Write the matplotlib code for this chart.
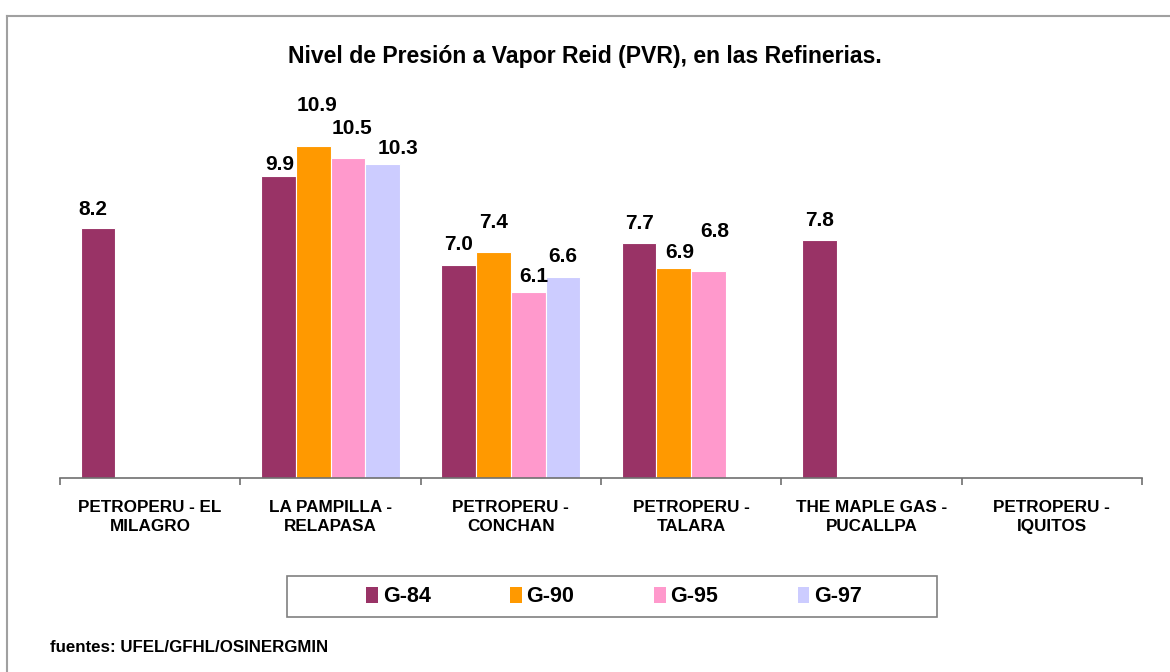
import matplotlib.pyplot as plt
import numpy as np
from matplotlib.patches import Rectangle, Patch
from matplotlib.lines import Line2D

plt.rcParams['font.family'] = ['Liberation Sans', 'DejaVu Sans']
plt.rcParams['font.weight'] = 'bold'

# data
categories = ["PETROPERU - EL\nMILAGRO", "LA PAMPILLA -\nRELAPASA", "PETROPERU -\nCONCHAN",
              "PETROPERU -\nTALARA", "THE MAPLE GAS -\nPUCALLPA", "PETROPERU -\nIQUITOS"]
series_names = ["G-84", "G-90", "G-95", "G-97"]
g84 = [8.2, 9.9, 7.0, 7.7, 7.8, np.nan]
g90 = [np.nan, 10.9, 7.4, 6.9, np.nan, np.nan]
g95 = [np.nan, 10.5, 6.1, 6.8, np.nan, np.nan]
g97 = [np.nan, 10.3, 6.6, np.nan, np.nan, np.nan]
series = [g84, g90, g95, g97]
colors = ["#993366", "#FF9900", "#FF99CC", "#CCCCFF"]

# label offsets in pixels (dx, dy) -- Excel placed them unevenly
label_off = [
    [(-5, 13), (1, 6), (0, 14), (0, 14), (0, 14), None],
    [None, (4, 35), (0, 24), (6, 10), None, None],
    [None, (4, 24), (6, 10), (6, 34), None, None],
    [None, (15, 10), (0, 15), None, None, None],
]

W, H = 1170, 672
fig = plt.figure(figsize=(W / 100, H / 100), dpi=100)
ax = fig.add_axes([60 / W, 1 - 478 / H, (1142 - 60) / W, (478 - 112) / H])

x = np.arange(len(categories))
slot = 0.1925
for i, vals in enumerate(series):
    pos = x + (i - 1.5) * slot
    ax.bar(pos, vals, width=slot, color=colors[i], edgecolor='white', linewidth=0.8)
    for j, v in enumerate(vals):
        if np.isnan(v):
            continue
        dx, dy = label_off[i][j]
        ax.annotate(f"{v:.1f}", (pos[j], v), xytext=(dx, dy), textcoords='offset pixels',
                    ha='center', va='baseline', fontsize=15, fontweight='bold')

ax.set_xlim(-0.5, len(categories) - 0.5)
ax.set_ylim(0, 12)
for s in ['top', 'right', 'left']:
    ax.spines[s].set_visible(False)
ax.spines['bottom'].set_color('#707070')
ax.spines['bottom'].set_linewidth(1.2)
ax.set_yticks([])
ax.set_xticks(x)
ax.set_xticklabels(categories, fontsize=12.3, fontweight='bold', linespacing=1.3)
ax.tick_params(axis='x', which='major', length=0, pad=16)
ax.set_xticks(np.arange(len(categories) + 1) - 0.5, minor=True)
ax.tick_params(axis='x', which='minor', length=5, color='#707070', width=1.2, direction='out')

fig.text(585 / W, 1 - 57 / H, "Nivel de Presión a Vapor Reid (PVR), en las Refinerias.",
         ha='center', va='center', fontsize=16.6, fontweight='bold')

# legend
handles = [Patch(facecolor=c, edgecolor='none') for c in colors]
fig.legend(handles, series_names, loc='center', bbox_to_anchor=(614 / W, 1 - 597 / H),
           ncol=4, frameon=False, handlelength=0.55, handleheight=0.7,
           handletextpad=0.2, columnspacing=3.7, prop={'weight': 'bold', 'size': 15.5})
fig.add_artist(Rectangle((287 / W, 1 - 617 / H), (937 - 287) / W, 41 / H,
                         transform=fig.transFigure, fill=False, edgecolor='#808080', linewidth=1.2))

fig.text(50 / W, 1 - 647 / H, "fuentes: UFEL/GFHL/OSINERGMIN", ha='left', va='center',
         fontsize=12.2, fontweight='bold')

# outer border (top and left visible)
fig.add_artist(Line2D([7 / W, 1.0], [1 - 16 / H, 1 - 16 / H], transform=fig.transFigure,
                      color='#a0a0a0', linewidth=1.5))
fig.add_artist(Line2D([7 / W, 7 / W], [0, 1 - 16 / H], transform=fig.transFigure,
                      color='#a0a0a0', linewidth=1.5))

fig.savefig("out.png", dpi=100)
